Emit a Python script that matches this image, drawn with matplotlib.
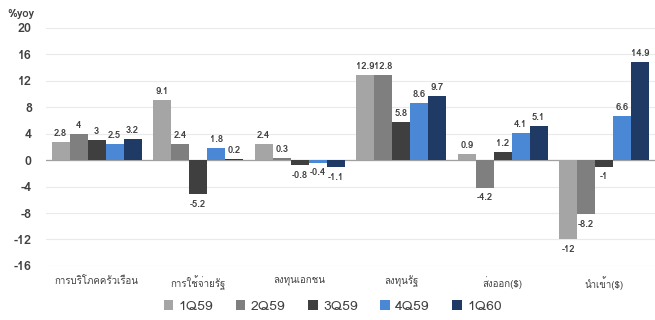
import matplotlib
matplotlib.use("Agg")
import matplotlib.pyplot as plt
import numpy as np

plt.rcParams['font.family'] = ['Loma', 'DejaVu Sans']

categories = ['การบริโภคครัวเรือน', 'การใช้จ่ายรัฐ', 'ลงทุนเอกชน', 'ลงทุนรัฐ', 'ส่งออก($)', 'นำเข้า($)']
quarters = ['1Q59', '2Q59', '3Q59', '4Q59', '1Q60']
q1_59 = [2.8, 9.1, 2.4, 12.9, 0.9, -12]
q2_59 = [4, 2.4, 0.3, 12.8, -4.2, -8.2]
q3_59 = [3, -5.2, -0.8, 5.8, 1.2, -1]
q4_59 = [2.5, 1.8, -0.4, 8.6, 4.1, 6.6]
q1_60 = [3.2, 0.2, -1.1, 9.7, 5.1, 14.9]
yticks = [20, 16, 12, 8, 4, 0, -4, -8, -12, -16]

series = [q1_59, q2_59, q3_59, q4_59, q1_60]
colors = ['#A5A5A5', '#7F7F7F', '#3F3F3F', '#4A88D6', '#1F3A64']

fig = plt.figure(figsize=(6.55, 3.2), dpi=100)
ax = fig.add_axes([0.07, 0.169, 0.93, 0.744])

x = np.arange(len(categories))
w = 0.177
for i, (vals, c, name) in enumerate(zip(series, colors, quarters)):
    pos = x + (i - 2) * w
    ax.bar(pos, vals, width=w, color=c, label=name, zorder=3)
    for px, v in zip(pos, vals):
        txt = ('%g' % v)
        if v >= 0:
            ax.text(px, v + 0.6, txt, ha='center', va='bottom', fontsize=6.8,
                    fontweight='bold', color='#404040')
        else:
            ax.text(px, v - 0.8, txt, ha='center', va='top', fontsize=6.8,
                    fontweight='bold', color='#404040')

ax.set_xlim(-0.5, len(categories) - 0.5)
ax.set_ylim(-16, 20)
ax.set_yticks(yticks)
ax.set_yticklabels([str(t) for t in yticks], fontsize=9, fontweight='bold', color='#404040')
ax.set_xticks(x)
ax.set_xticklabels(categories, fontsize=7, color='#404040')
ax.tick_params(axis='both', length=0)
ax.tick_params(axis='x', pad=7)
ax.tick_params(axis='y', pad=10)
ax.grid(axis='y', color='#EAEAEA', linewidth=0.8, zorder=0)
ax.axhline(0, color='#A0A0A0', linewidth=0.9, zorder=2)
for s in ax.spines.values():
    s.set_visible(False)

fig.text(0.012, 0.955, '%yoy', fontsize=8, fontweight='bold', color='#404040', va='center')

ax.legend(loc='upper center', bbox_to_anchor=(0.471, -0.09), ncol=5, frameon=False,
          fontsize=10, handlelength=0.7, handleheight=0.7, handletextpad=0.4,
          columnspacing=1.6, labelcolor='#404040')

fig.savefig('out.png', dpi=100)
